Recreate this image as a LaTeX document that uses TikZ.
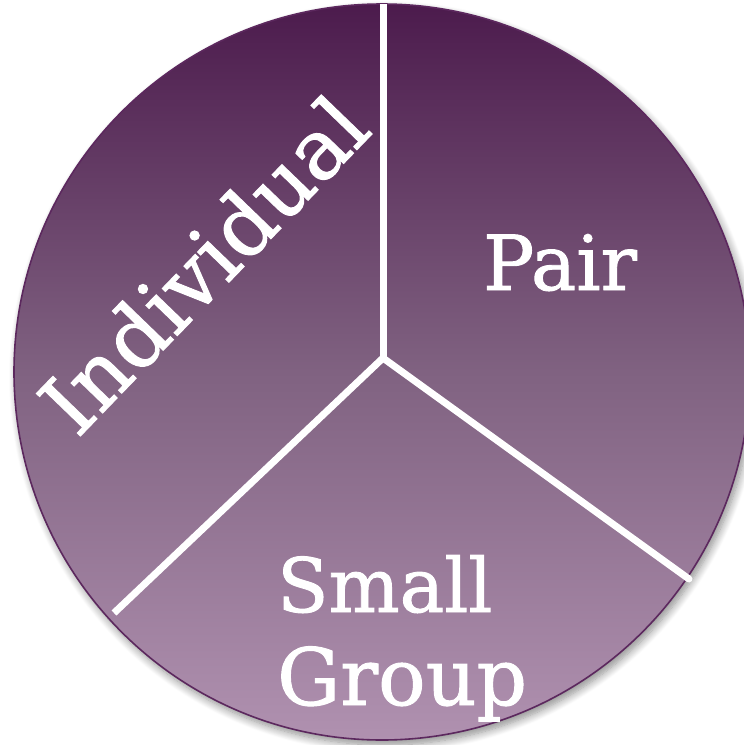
\documentclass[tikz,border=0pt]{standalone}
\usepackage{fontspec}
\setmainfont{DejaVu Serif}
\newfontfamily\lblfont[FakeBold=1.2]{DejaVu Serif}
\usetikzlibrary{shadows.blur}
\definecolor{ptop}{RGB}{76,27,77}
\definecolor{pmid}{RGB}{128,98,129}
\definecolor{pbot}{RGB}{176,145,176}
\definecolor{prim}{RGB}{92,40,94}
\tikzset{
  divider/.style={white,line width=7pt},
  label/.style={white,inner sep=0pt}
}
\begin{document}
\begin{tikzpicture}[x=1pt,y=-1pt]
\useasboundingbox (0,0) rectangle (744,745);
\coordinate (c) at (382,372);
\coordinate (o) at (383,358);
\coordinate (t) at (383,4);
\coordinate (r) at (689,579);
\coordinate (l) at (114,613);
\path[blur shadow={shadow xshift=3pt,shadow yshift=-5pt,shadow blur steps=10,shadow blur radius=8pt,shadow opacity=45}] (c) circle (368);
\shade[top color=ptop,bottom color=pbot,middle color=pmid] (c) circle (368);
\draw[prim,line width=1.6pt] (c) circle (368);
\draw[divider] (t) -- (o);
\draw[divider,line cap=round] (o) -- (r);
\draw[divider] (o) -- (l);
\node[label,anchor=base,font=\lblfont\fontsize{76}{90}\selectfont] (pair) at (560,290) {Pair};
\node[label,anchor=base west,font=\lblfont\fontsize{75}{90}\selectfont] (small) at (277,612) {Small};
\node[label,anchor=base west,font=\lblfont\fontsize{79}{90}\selectfont] (group) at (277,705) {Group};
\node[label,rotate=46,font=\lblfont\fontsize{84}{90}\selectfont] (indiv) at (203,264) {Individual};
\end{tikzpicture}
\end{document}
